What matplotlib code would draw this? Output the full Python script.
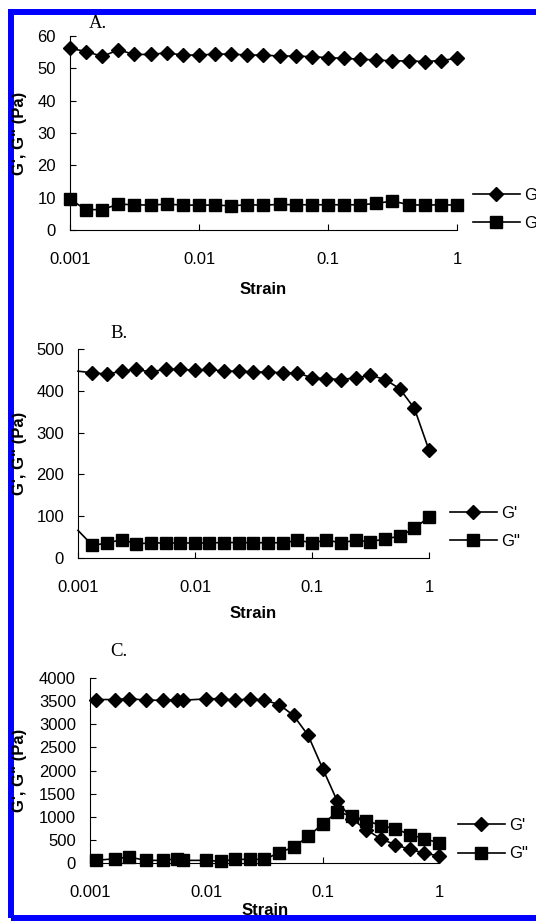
import matplotlib
matplotlib.use("Agg")
import matplotlib.pyplot as plt
from matplotlib.patches import Rectangle
from matplotlib.lines import Line2D

plt.rcParams['font.family'] = ['Liberation Sans', 'DejaVu Sans']

# strain values (shared grid for panels A and B)
strain_ab = [0.001, 0.00133, 0.00178, 0.00237, 0.00316, 0.00422, 0.00562, 0.0075,
             0.01, 0.0133, 0.0178, 0.0237, 0.0316, 0.0422, 0.0562, 0.075,
             0.1, 0.133, 0.178, 0.237, 0.316, 0.422, 0.562, 0.75, 1.0]

# panel A
gp_a = [56.2, 55.2, 53.7, 55.7, 54.3, 54.3, 54.8, 54.1, 54.1, 54.4, 54.4, 54.1, 54.1,
        53.8, 53.8, 53.6, 53.3, 53.1, 52.8, 52.6, 52.3, 52.3, 52.1, 52.4, 53.1]
gpp_a = [9.5, 6.3, 6.3, 8.0, 7.8, 7.7, 8.0, 7.7, 7.7, 7.7, 7.5, 7.8, 7.7,
         7.9, 7.8, 7.8, 7.8, 7.8, 7.8, 8.2, 9.0, 7.8, 7.7, 7.8, 7.7]

# panel B
gp_b = [447, 443, 440, 447, 451, 445, 452, 451, 449, 451, 447, 447, 445,
        445, 443, 443, 431, 429, 427, 431, 437, 427, 405, 358, 258]
gpp_b = [66, 30, 36, 44, 34, 36, 36, 36, 36, 36, 37, 37, 36,
         37, 36, 42, 37, 42, 37, 42, 39, 46, 52, 71, 98]

# panel C
strain_c = [0.00112, 0.00165, 0.00215, 0.00305, 0.0042, 0.0056, 0.0063, 0.01,
            0.0133, 0.0178, 0.0237, 0.0316, 0.0422, 0.0562, 0.075, 0.1,
            0.133, 0.178, 0.237, 0.316, 0.422, 0.562, 0.75, 1.0]
gp_c = [3534, 3534, 3556, 3520, 3520, 3534, 3520, 3548, 3556, 3520, 3548, 3520,
        3427, 3190, 2760, 2043, 1348, 953, 724, 523, 394, 294, 215, 151]
gpp_c = [57, 93, 129, 57, 57, 93, 57, 57, 36, 79, 79, 79,
         222, 344, 573, 846, 1097, 1025, 918, 810, 738, 616, 523, 437]

xticks = [0.001, 0.01, 0.1, 1]
xticklabels = ['0.001', '0.01', '0.1', '1']

W, H = 536, 922
fig = plt.figure(figsize=(W / 100, H / 100), dpi=100)


def px_axes(left, right, top, bottom):
    return fig.add_axes([left / W, 1 - bottom / H, (right - left) / W, (bottom - top) / H])


panels = [
    dict(box=(70, 457, 36, 230), x=strain_ab, gp=gp_a, gpp=gpp_a, skip=0,
         ylim=(0, 60), yticks=[0, 10, 20, 30, 40, 50, 60], letter='A.', letter_xy=(89, 23),
         strain_xy=(263, 289), leg=(473, 188)),
    dict(box=(78, 429, 349, 558), x=strain_ab, gp=gp_b, gpp=gpp_b, skip=1,
         ylim=(0, 500), yticks=[0, 100, 200, 300, 400, 500], letter='B.', letter_xy=(110, 333),
         strain_xy=(253, 613), leg=(450, 506)),
    dict(box=(90, 439, 678, 863), x=strain_c, gp=gp_c, gpp=gpp_c, skip=0,
         ylim=(0, 4000), yticks=list(range(0, 4001, 500)), letter='C.', letter_xy=(110, 652),
         strain_xy=(265, 910), leg=(458, 818)),
]

for p in panels:
    l, r, t, b = p['box']
    ax = px_axes(l, r, t, b)
    s = p['skip']
    ax.plot(p['x'], p['gp'], color='black', lw=1.2, marker='D', ms=7,
            markevery=slice(s, None), clip_on=False, zorder=3)
    ax.plot(p['x'], p['gpp'], color='black', lw=1.2, marker='s', ms=8.5,
            markevery=slice(s, None), clip_on=False, zorder=3)
    ax.set_xscale('log')
    ax.set_xlim(0.001, 1)
    ax.set_ylim(*p['ylim'])
    ax.set_xticks(xticks)
    ax.set_xticklabels(xticklabels)
    ax.set_yticks(p['yticks'])
    ax.minorticks_off()
    ax.tick_params(direction='in', length=4, width=0.8, labelsize=12)
    ax.tick_params(axis='y', pad=10)
    ax.tick_params(axis='x', pad=16)
    for sp in ['top', 'right']:
        ax.spines[sp].set_visible(False)
    for sp in ['left', 'bottom']:
        ax.spines[sp].set_linewidth(0.8)

    fig.text(20 / W, 1 - (t + b) / 2 / H, 'G\', G" (Pa)', rotation=90, fontsize=12,
             fontweight='bold', ha='center', va='center')
    fig.text(p['strain_xy'][0] / W, 1 - p['strain_xy'][1] / H, 'Strain', fontsize=12,
             fontweight='bold', ha='center', va='center')
    fig.text(p['letter_xy'][0] / W, 1 - p['letter_xy'][1] / H, p['letter'],
             family='Liberation Serif', fontsize=13.5, ha='left', va='center')

    handles = [Line2D([], [], color='black', lw=1.2, marker='D', ms=7),
               Line2D([], [], color='black', lw=1.2, marker='s', ms=8.5)]
    fig.legend(handles, ["G'", 'G"'], loc='upper left',
               bbox_to_anchor=(p['leg'][0] / W, 1 - p['leg'][1] / H),
               frameon=False, fontsize=12, handlelength=2.8, handletextpad=0.25,
               labelspacing=0.8, borderpad=0, borderaxespad=0)

# blue frame round the figure
fig.patches.append(Rectangle((11 / W, 1 - 918 / H), 700 / W, (918 - 12) / H,
                             transform=fig.transFigure, fill=False,
                             edgecolor='#0000ff', lw=4.3, clip_on=False))

fig.savefig('out.png', dpi=100)
